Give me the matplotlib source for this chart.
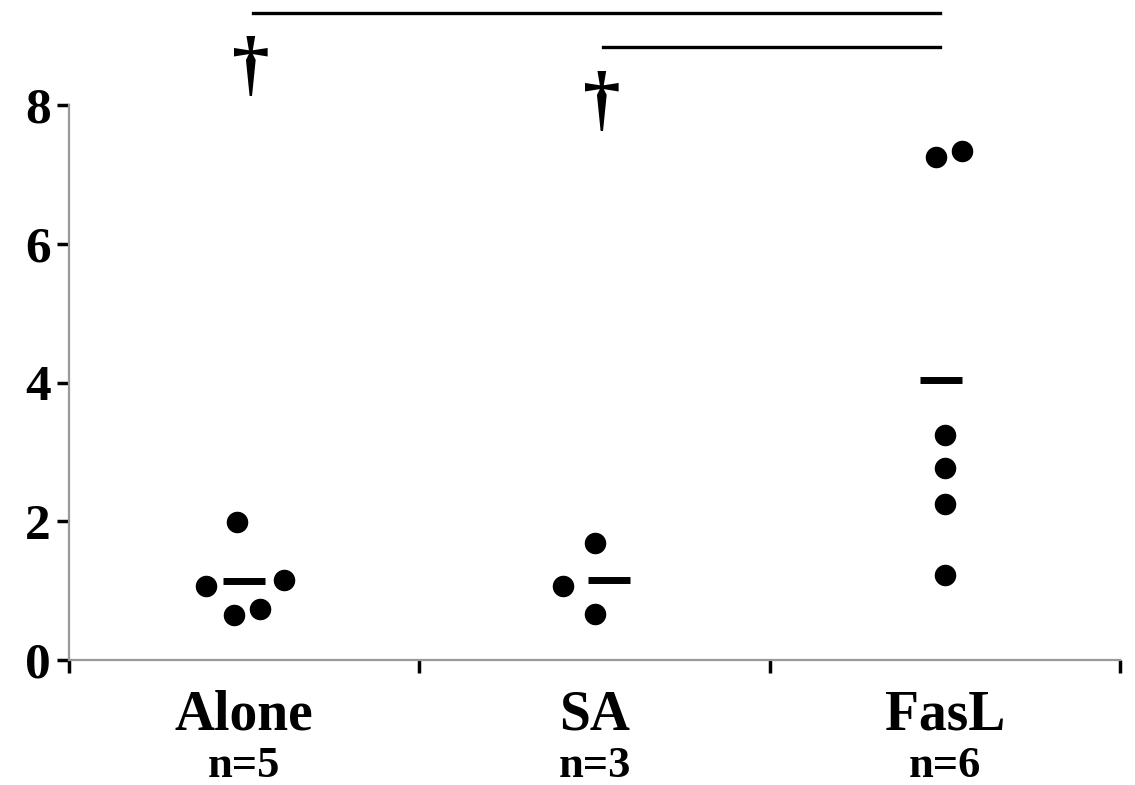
"""Scatter of individual values per group with group means"""
import matplotlib.pyplot as plt
import numpy as np

plt.rcParams["font.family"] = ["Liberation Serif", "DejaVu Serif"]
plt.rcParams["font.weight"] = "bold"

# data
groups = ["Alone", "SA", "FasL"]
counts = ["n=5", "n=3", "n=6"]
alone = [1.99, 1.07, 1.15, 0.65, 0.73]
alone_dx = [-0.02, -0.11, 0.115, -0.03, 0.045]
sa = [1.69, 1.07, 0.66]
sa_dx = [0.0, -0.09, 0.0]
fasl = [7.25, 7.34, 3.24, 2.77, 2.25, 1.23]
fasl_dx = [-0.025, 0.05, 0.0, 0.0, 0.0, 0.0]
values = [alone, sa, fasl]
offsets = [alone_dx, sa_dx, fasl_dx]
means = [1.14, 1.15, 4.03]
mean_dx = [0.0, 0.04, -0.01]

# significance bars: (from group, to group, height), dagger (group, height)
sig_bars = [(0, 2, 9.32), (1, 2, 8.83)]
daggers = [(0, 8.5), (1, 8.0)]

fig = plt.figure(figsize=(11.35, 7.85), dpi=100)
ax = fig.add_axes([0.0608, 0.1592, 0.9260, 0.7070])

for i, (vals, dx) in enumerate(zip(values, offsets)):
    x = i + 0.5 + np.array(dx)
    ax.scatter(x, vals, s=210, color="black", zorder=3)
    xm = i + 0.5 + mean_dx[i]
    ax.hlines(means[i], xm - 0.06, xm + 0.06, color="black", lw=5, zorder=3)

for a, b, h in sig_bars:
    ax.plot([a + 0.525, b + 0.485], [h, h], color="black", lw=2.4, clip_on=False)
for g, h in daggers:
    ax.text(g + 0.52, h, "\u2020", ha="center", va="center", fontsize=54,
            clip_on=False)

for i, (name, n) in enumerate(zip(groups, counts)):
    ax.text(i + 0.5, -0.43, name, ha="center", va="top", fontsize=40)
    ax.text(i + 0.5, -1.24, n, ha="center", va="top", fontsize=32)

ax.set_xlim(0, 3)
ax.set_ylim(0, 8)
ax.set_xticks([0, 1, 2, 3])
ax.set_xticklabels([])
ax.set_yticks([0, 2, 4, 6, 8])
ax.tick_params(axis="both", direction="out", length=9, width=2.5, color="black")
ax.tick_params(axis="y", labelsize=37, pad=4)
for side in ["top", "right"]:
    ax.spines[side].set_visible(False)
for side in ["left", "bottom"]:
    ax.spines[side].set_color("#999999")
    ax.spines[side].set_linewidth(1.6)

fig.savefig("out.png", dpi=100)
